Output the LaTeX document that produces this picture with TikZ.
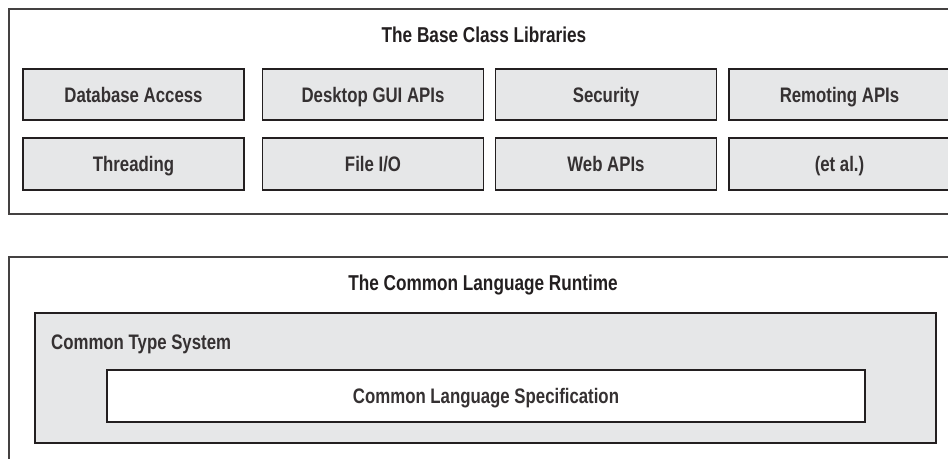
\documentclass[tikz,border=0pt]{standalone}
\usepackage{fontspec}
\setmainfont{Liberation Sans}
\newfontfamily\itemfont{Liberation Sans}[FakeStretch=0.80]
\definecolor{boxgray}{HTML}{E6E7E8}
\definecolor{ink}{HTML}{231F20}
\definecolor{txt}{HTML}{231F20}
\tikzset{
  frame/.style={draw=ink!85, line width=1.5pt, fill=white, inner sep=0pt},
  libbox/.style={draw=ink, line width=1.8pt, fill=boxgray, inner sep=0pt,
    minimum width=221pt, font=\itemfont\bfseries\fontsize{21}{24}\selectfont, text=txt!92,
    text height=15.3pt, text depth=0pt},
  ctsbox/.style={draw=ink, line width=1.8pt, fill=boxgray, inner sep=0pt},
  clsbox/.style={draw=ink, line width=1.8pt, fill=white, inner sep=0pt,
    font=\itemfont\bfseries\fontsize{21}{24}\selectfont, text=txt!92, text height=15.3pt, text depth=0pt},
  title/.style={font=\itemfont\bfseries\fontsize{21.5}{24}\selectfont, text=txt, inner sep=0pt,
    text height=15.7pt, text depth=0pt},
  plain/.style={font=\itemfont\bfseries\fontsize{21}{24}\selectfont, text=txt!92, inner sep=0pt,
    text height=15.3pt, text depth=0pt}
}
\begin{document}
\begin{tikzpicture}[x=1pt,y=-1pt]
\useasboundingbox (0,0) rectangle (948,458);
\fill[white] (0,0) rectangle (948,458);
\clip (0,0) rectangle (948,458);
% Base Class Libraries
\node[frame, minimum width=943pt, minimum height=205pt] (bcl) at (480.5,111.5) {};
\node[title] (bcltitle) at (484,35) {The Base Class Libraries};
\node[libbox, minimum height=51pt] (db) at (133.5,94.5) {Database Access};
\node[libbox, minimum height=51pt] (gui) at (373,94.5) {Desktop GUI APIs};
\node[libbox, minimum height=51pt] (sec) at (606,94.5) {Security};
\node[libbox, minimum height=51pt] (rem) at (839.5,94.5) {Remoting APIs};
\node[libbox, minimum height=52pt] (thr) at (133.5,164) {Threading};
\node[libbox, minimum height=52pt] (fio) at (373,164) {File I/O};
\node[libbox, minimum height=52pt] (web) at (606,164) {Web APIs};
\node[libbox, minimum height=52pt] (etal) at (839.5,164) {(et al.)};
% Common Language Runtime
\node[frame, minimum width=943pt, minimum height=205pt] (clr) at (480.5,359.5) {};
\node[title] (clrtitle) at (483,282.5) {The Common Language Runtime};
\node[ctsbox, minimum width=901pt, minimum height=130pt] (cts) at (485.5,378) {};
\node[plain, anchor=west] (ctstitle) at (51,342) {Common Type System};
\node[clsbox, minimum width=758pt, minimum height=52pt] (cls) at (486,396) {Common Language Specification};
\end{tikzpicture}
\end{document}
